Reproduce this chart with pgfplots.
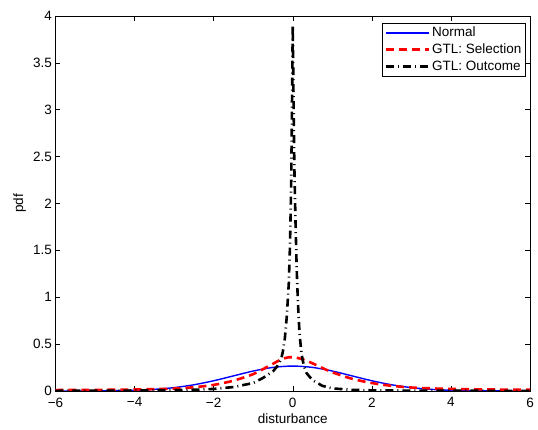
\documentclass[border=0pt]{standalone}
\usepackage{pgfplots}
\pgfplotsset{compat=1.18}
\usepackage{fontspec}
\setmainfont{Liberation Sans}
\begin{document}
\fontsize{13.5}{16}\selectfont
\begin{tikzpicture}[x=1pt,y=1pt]
\path[use as bounding box] (-55.5,-39) rectangle (482.5,391);
\begin{axis}[
  at={(0,0)}, anchor=south west,
  width=474.5pt, height=375pt, scale only axis,
  xmin=-6, xmax=6, ymin=0, ymax=4,
  xtick={-6,-4,-2,0,2,4,6},
  xticklabels={−6,−4,−2,0,2,4,6},
  ytick={0,0.5,1,1.5,2,2.5,3,3.5,4},
  yticklabels={0,0.5,1,1.5,2,2.5,3,3.5,4},
  tick align=inside, major tick length=5pt,
  xtick pos=both, ytick pos=both,
  tick style={black, line width=0.5pt},
  axis line style={line width=0.6pt},
  ticklabel style={font=\fontsize{13.5}{16}\selectfont},
  xticklabel style={yshift=-2pt},
  yticklabel style={xshift=1pt},
  xlabel={disturbance}, ylabel={pdf},
  xlabel style={font=\fontsize{13.5}{16}\selectfont, yshift=3pt},
  ylabel style={font=\fontsize{13.5}{16}\selectfont, yshift=-2pt},
  legend style={at={(0.991,0.982)}, anchor=north east, draw=black, line width=0.6pt,
    font=\fontsize{13.5}{16}\selectfont, row sep=1pt, inner xsep=2pt, inner ysep=2pt},
  legend cell align=left,
  legend image code/.code={\draw[#1] (0pt,0pt) -- (43pt,0pt);},
]
\addplot[blue, line width=1.4pt, smooth] coordinates {
(-6,0.0001) (-5.5,0.0003) (-5,0.0010) (-4.5,0.0030) (-4,0.0076) (-3.5,0.0175)
(-3,0.0360) (-2.5,0.0663) (-2,0.1093) (-1.5,0.1613) (-1,0.2130) (-0.5,0.2516)
(0,0.2660) (0.5,0.2516) (1,0.2130) (1.5,0.1613) (2,0.1093) (2.5,0.0663)
(3,0.0360) (3.5,0.0175) (4,0.0076) (4.5,0.0030) (5,0.0010) (5.5,0.0003) (6,0.0001)
};
\addlegendentry{Normal}
\addplot[red, line width=2.6pt, dash pattern=on 8pt off 5pt, smooth] coordinates {
(-6,0.010) (-5,0.012) (-4,0.016) (-3.5,0.020) (-3,0.026) (-2.5,0.040) (-2,0.065)
(-1.5,0.110) (-1,0.180) (-0.7,0.245) (-0.5,0.290) (-0.3,0.335) (-0.1,0.360)
(0.1,0.355) (0.3,0.330) (0.5,0.295) (0.7,0.255) (1,0.200) (1.5,0.130) (2,0.085)
(2.5,0.055) (3,0.037) (3.5,0.028) (4,0.022) (5,0.016) (6,0.013)
};
\addlegendentry{GTL: Selection}
\addplot[black, line width=2.6pt, dash pattern=on 8pt off 4pt on 1pt off 4pt] coordinates {
(-6,0.002) (-5,0.003) (-4,0.005) (-3,0.009) (-2.5,0.013) (-2,0.022) (-1.5,0.042)
(-1,0.085) (-0.75,0.14) (-0.5,0.21) (-0.4,0.26) (-0.3,0.33) (-0.25,0.42) (-0.2,0.56)
(-0.15,0.80) (-0.1,1.15) (-0.07,1.55) (-0.04,2.2) (-0.02,3.0) (0,3.9)
(0.02,3.1) (0.04,2.4) (0.07,1.8) (0.1,1.3) (0.13,0.95) (0.17,0.62) (0.22,0.40)
(0.28,0.27) (0.35,0.19) (0.5,0.115) (0.75,0.055) (1,0.028) (1.5,0.012) (2,0.007)
(3,0.004) (4,0.003) (5,0.002) (6,0.002)
};
\addlegendentry{GTL: Outcome}
\end{axis}
\end{tikzpicture}
\end{document}
